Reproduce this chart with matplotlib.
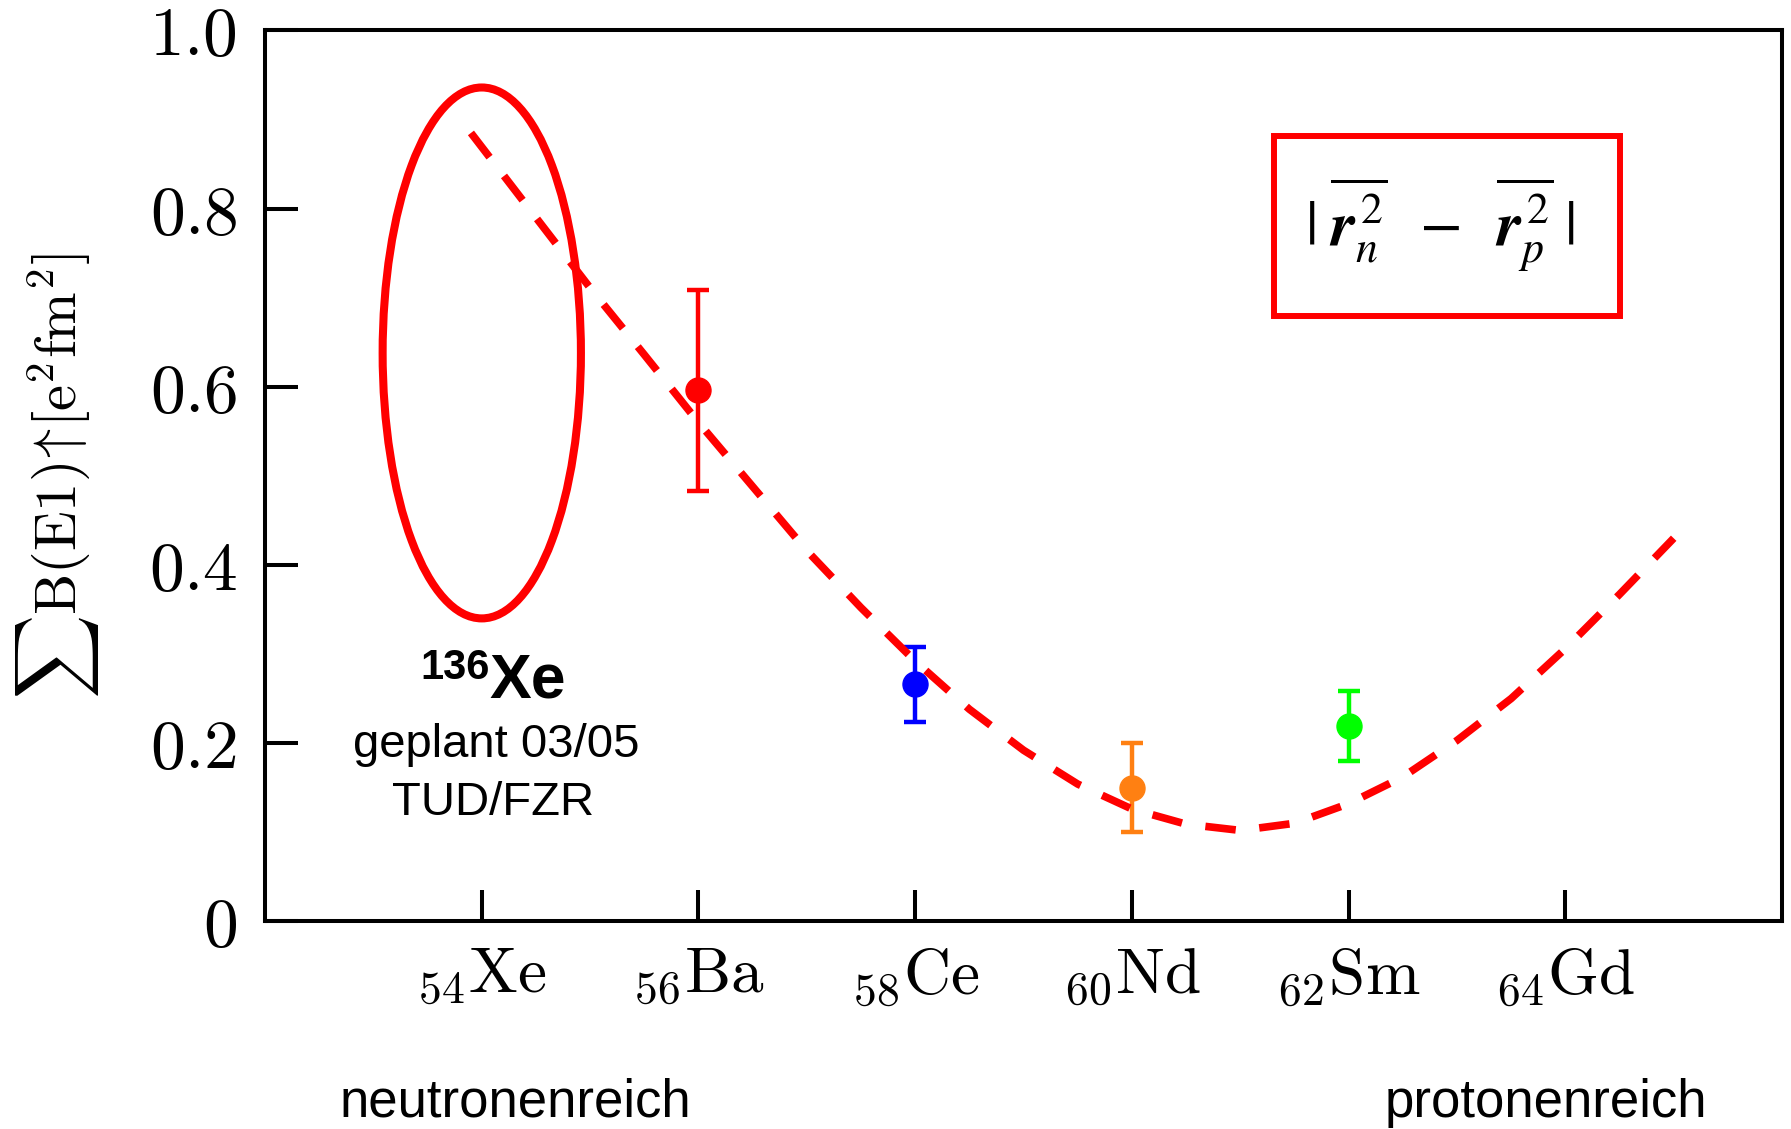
import numpy as np
import matplotlib.pyplot as plt
from matplotlib.patches import Ellipse, Rectangle

plt.rcParams['font.family'] = ['Liberation Sans', 'DejaVu Sans']
plt.rcParams['mathtext.fontset'] = 'cm'

# isotopes along the chain, proton number Z
elements = ['Xe', 'Ba', 'Ce', 'Nd', 'Sm', 'Gd']
Z = [54, 56, 58, 60, 62, 64]

# measured summed E1 strength [e^2 fm^2]
meas_Z = [56, 58, 60, 62]
b_e1 = [0.596, 0.266, 0.150, 0.219]
b_e1_err = [0.113, 0.042, 0.050, 0.039]
point_colors = ['#ff0000', '#0000ff', '#ff8012', '#00ff00']

# |r_n^2 - r_p^2| trend (scaled)
curve_Z = [53.9, 54.5, 55.0, 55.5, 56.0, 56.5, 57.0, 57.5, 58.0, 58.5, 59.0,
           59.5, 60.0, 60.5, 61.0, 61.5, 62.0, 62.5, 63.0, 63.5, 64.0, 64.5, 65.0]
curve_B = [0.885, 0.790, 0.711, 0.636, 0.560, 0.488, 0.416, 0.352, 0.292, 0.238, 0.192,
           0.154, 0.126, 0.109, 0.102, 0.110, 0.132, 0.162, 0.203, 0.250, 0.306, 0.367, 0.430]

yticks = [0, 0.2, 0.4, 0.6, 0.8, 1.0]
ytick_labels = ['0', '0.2', '0.4', '0.6', '0.8', '1.0']

fig = plt.figure(figsize=(17.91, 11.29), dpi=100)
ax = fig.add_axes([0.148, 0.184, 0.847, 0.789])

for z, b, e, c in zip(meas_Z, b_e1, b_e1_err, point_colors):
    ax.errorbar(z, b, yerr=e, fmt='o', color=c, ms=18, elinewidth=3.2,
                capsize=8, capthick=3.2, zorder=2)

ax.plot(curve_Z, curve_B, color='red', lw=5.5, dashes=(4.0, 3.1), zorder=3)

# planned 136Xe measurement
ax.add_patch(Ellipse((Z[0], 0.638), 1.83, 0.596, fill=False, ec='red', lw=5.8, zorder=3))
ax.text(54.07, 0.2716, '136', ha='right', va='baseline', fontsize=30, fontweight='bold')
ax.text(54.07, 0.251, 'Xe', ha='left', va='baseline', fontsize=45, fontweight='bold')
ax.text(54.13, 0.184, 'geplant 03/05', ha='center', va='baseline', fontsize=34)
ax.text(54.10, 0.119, 'TUD/FZR', ha='center', va='baseline', fontsize=34)

# legend box
ax.add_patch(Rectangle((0.665, 0.680), 0.228, 0.2016, transform=ax.transAxes,
                       fill=False, ec='red', lw=4.3))
ax.text(0.774, 0.782,
        r'$|\;\overline{\mathbfit{r}_{n}^{\,2}}\;\;-\;\;\overline{\mathbfit{r}_{p}^{\,2}}\;|$',
        transform=ax.transAxes, ha='center', va='center', fontsize=45,
        math_fontfamily='stix')

ax.set_xlim(52, 66)
ax.set_ylim(0, 1.0)
ax.set_xticks(Z)
ax.set_xticklabels([rf'$_{{{z}}}\mathrm{{{el}}}$' for z, el in zip(Z, elements)], fontsize=47)
ax.set_yticks(yticks)
ax.set_yticklabels([rf'${t}$' for t in ytick_labels], fontsize=50)
ax.tick_params(axis='x', direction='in', length=22, width=2.9, pad=18)
ax.tick_params(axis='y', direction='in', length=24, width=2.9, pad=20)
for s in ax.spines.values():
    s.set_linewidth(2.9)

ax.set_ylabel(r'$\sum\mathrm{B(E1)}\!\uparrow\![\mathrm{e}^2\mathrm{fm}^2]$', fontsize=42)
ax.yaxis.set_label_coords(-0.108, 0.5)

fig.text(0.288, 0.011, 'neutronenreich', ha='center', va='baseline', fontsize=38)
fig.text(0.863, 0.011, 'protonenreich', ha='center', va='baseline', fontsize=38)

fig.savefig('out.png', dpi=100)
